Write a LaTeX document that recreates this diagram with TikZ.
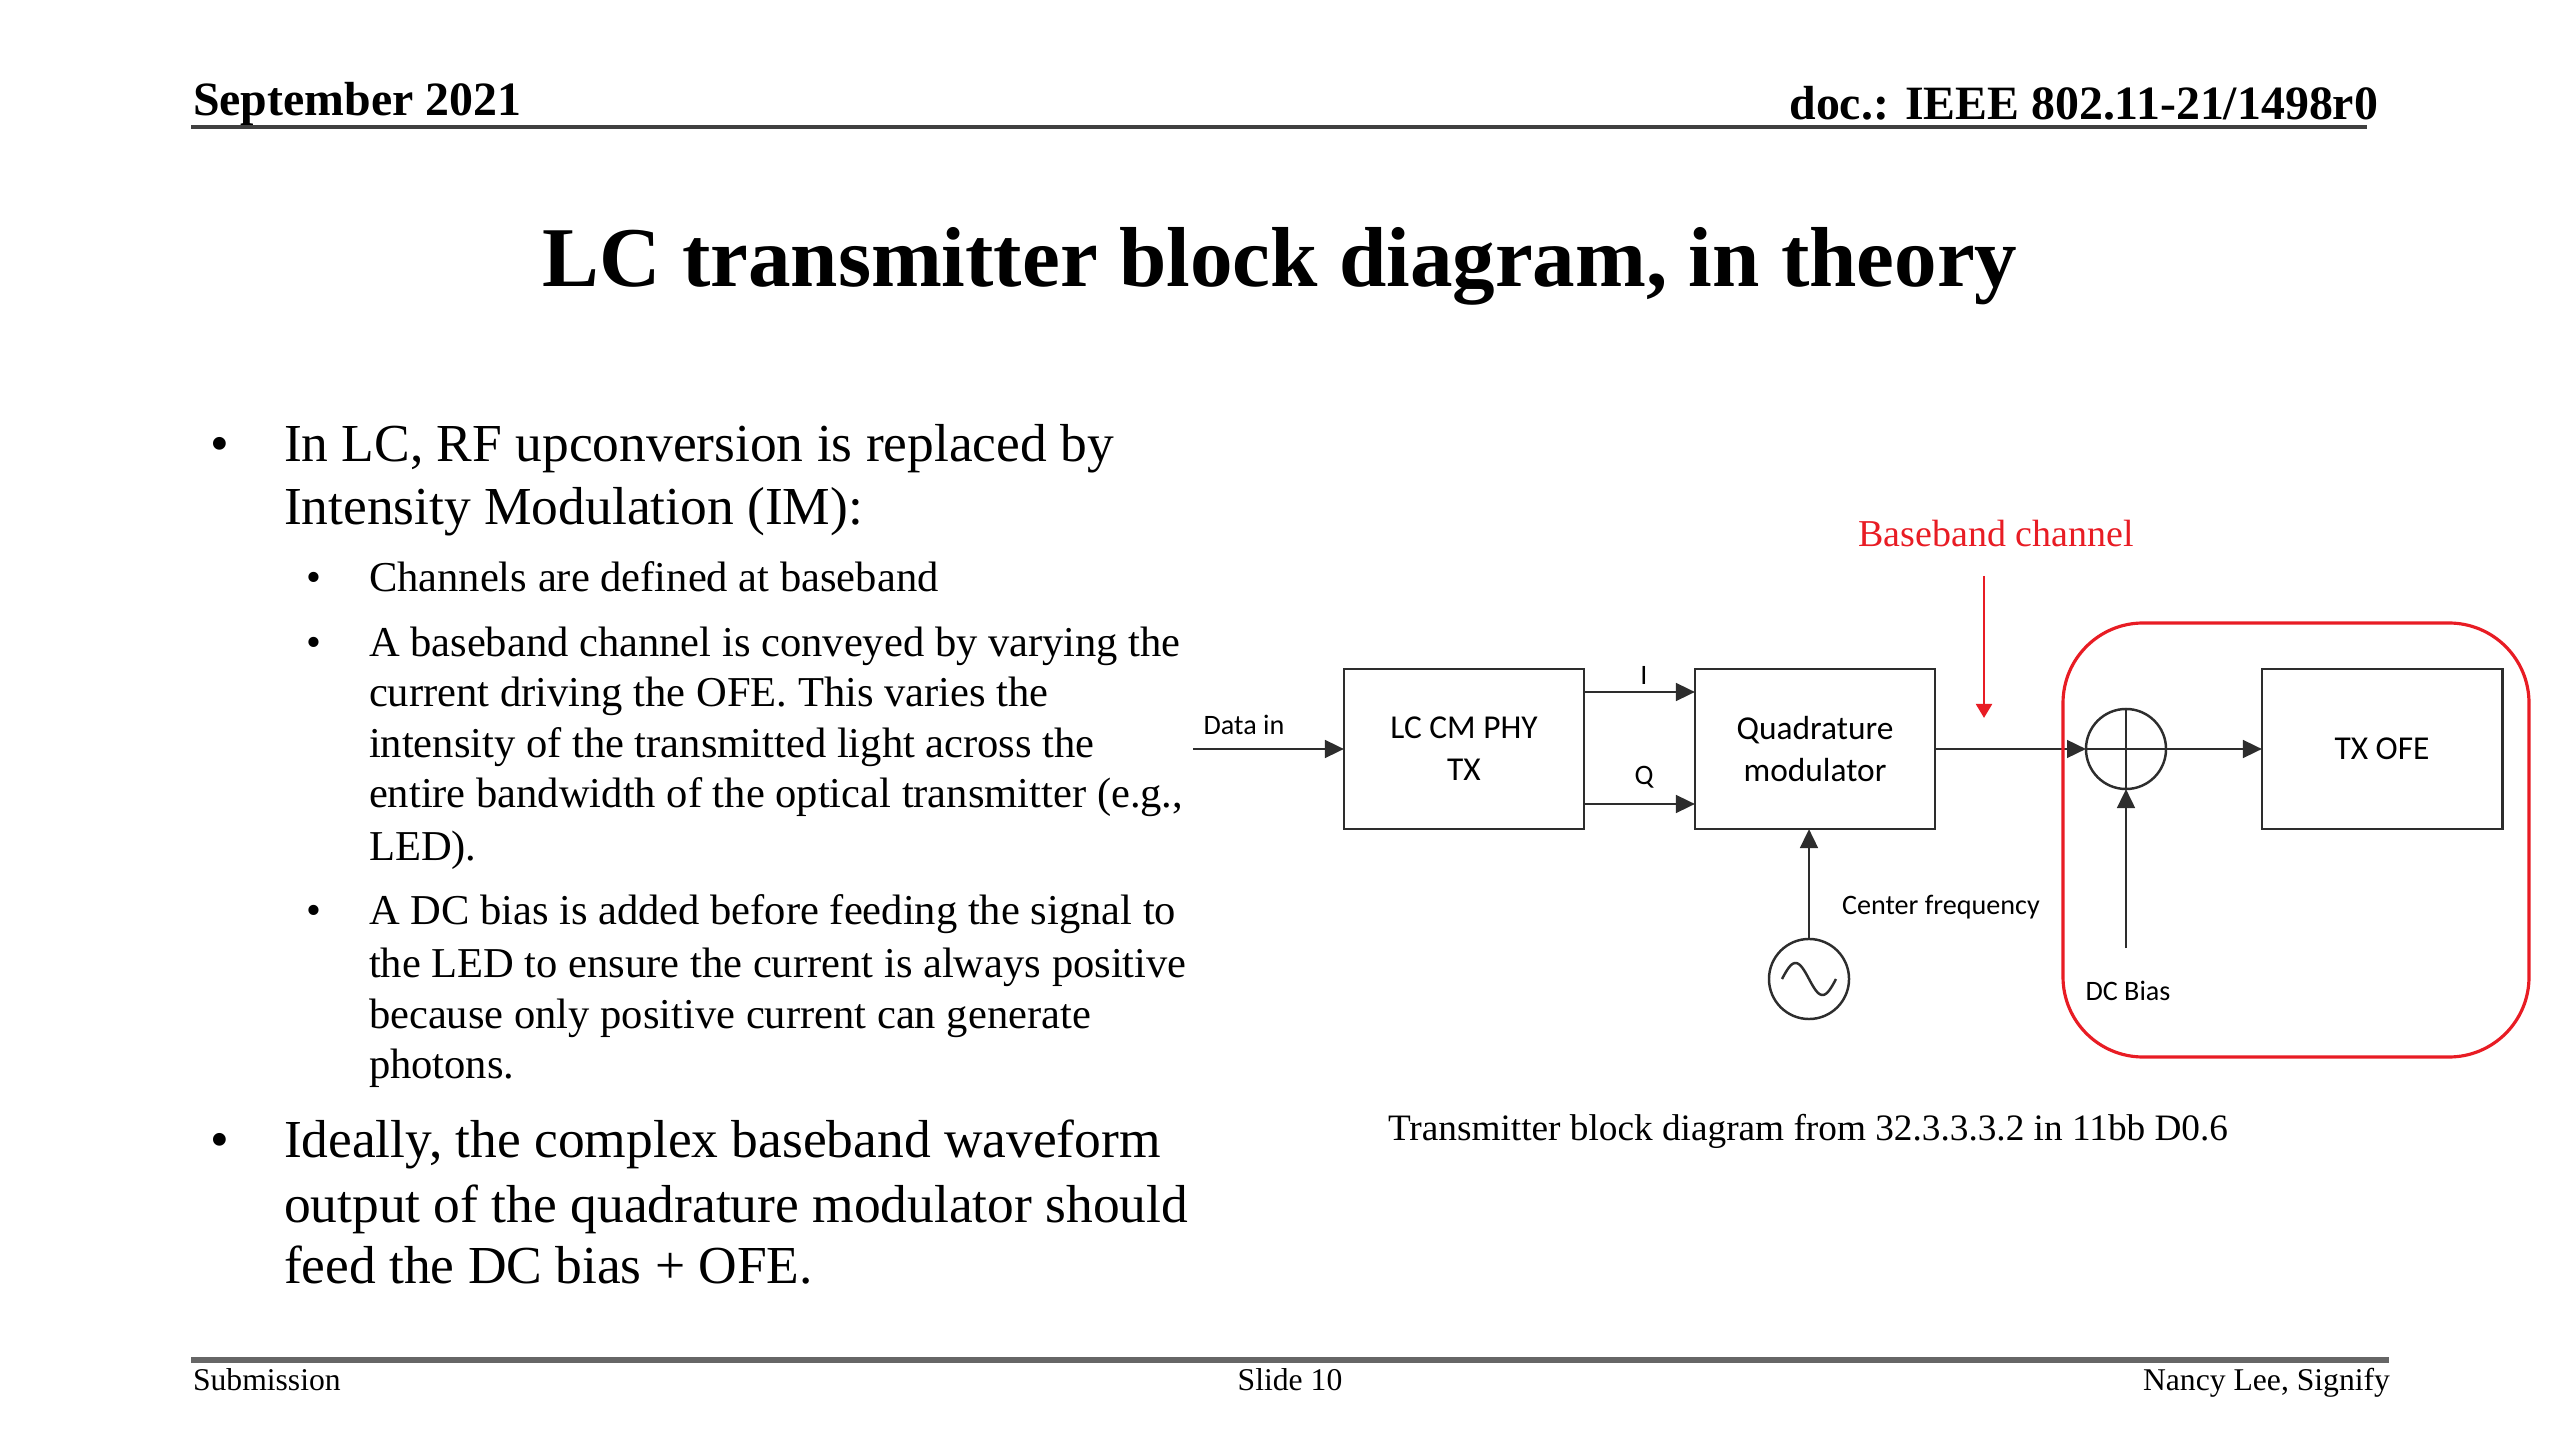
\documentclass[tikz,border=0pt]{standalone}
\usepackage{fontspec}
\setmainfont{Liberation Serif}
\newfontfamily\diagfont{Carlito}
\usetikzlibrary{arrows.meta}
\definecolor{mred}{RGB}{232,28,36}
\definecolor{lineclr}{RGB}{45,45,45}
\begin{document}
\begin{tikzpicture}[x=0.01cm,y=-0.01cm,
  txt/.style={inner sep=0pt, outer sep=0pt},
  hdr/.style={txt, font=\bfseries\fontsize{13.6}{16}\selectfont},
  ftr/.style={txt, anchor=base, font=\fontsize{9}{11}\selectfont},
  lone/.style={txt, anchor=base west, font=\fontsize{15.2}{18}\selectfont},
  ltwo/.style={txt, anchor=base west, font=\fontsize{12.1}{14}\selectfont},
  bulone/.style={txt, anchor=base, font=\fontsize{15.2}{18}\selectfont},
  bultwo/.style={txt, anchor=base, font=\fontsize{12.1}{14}\selectfont},
  blk/.style={draw=lineclr, line width=0.8pt, minimum width=2.4cm, minimum height=1.6cm, inner sep=0pt, outer sep=0pt, align=center, font=\diagfont\fontsize{9.5}{12}\selectfont},
  rnd/.style={draw=lineclr, line width=0.7pt, circle, minimum size=0.8cm, inner sep=0pt, outer sep=0pt},
  lbl/.style={txt, font=\diagfont\fontsize{8}{10}\selectfont},
  arr/.style={draw=lineclr, line width=0.8pt, -{Triangle[length=5.4pt,width=5pt]}},
  redarr/.style={draw=mred, line width=0.8pt, -{Triangle[length=4pt,width=4.5pt]}}
]
\path[use as bounding box, fill=white] (0,0) rectangle (2560,1440);

% header
\node[hdr, anchor=base west] (date) at (193,116) {September 2021};
\node[hdr, anchor=base east] (doc) at (2378,120) {doc.: IEEE 802.11-21/1498r0};
\draw[line width=1.2pt, black!75] (191,127) -- (2367,127);

% title
\node[txt, anchor=base, font=\bfseries\fontsize{24.2}{29}\selectfont] (title) at (1280,287) {LC transmitter block diagram, in theory};

% bullets
\node[bulone] (b1) at (220,462) {•};
\node[lone] (t1a) at (284,462) {In LC, RF upconversion is replaced by};
\node[lone] (t1b) at (284,525) {Intensity Modulation (IM):};
\node[bultwo] (b2) at (314,592) {•};
\node[ltwo] (t2a) at (369,592) {Channels are defined at baseband};
\node[bultwo] (b3) at (314,657) {•};
\node[ltwo] (t3a) at (369,657) {A baseband channel is conveyed by varying the};
\node[ltwo] (t3b) at (369,707) {current driving the OFE. This varies the};
\node[ltwo] (t3c) at (369,758) {intensity of the transmitted light across the};
\node[ltwo] (t3d) at (369,808) {entire bandwidth of the optical transmitter (e.g.,};
\node[ltwo] (t3e) at (369,860) {LED).};
\node[bultwo] (b4) at (314,925) {•};
\node[ltwo] (t4a) at (369,925) {A DC bias is added before feeding the signal to};
\node[ltwo] (t4b) at (369,977) {the LED to ensure the current is always positive};
\node[ltwo] (t4c) at (369,1028) {because only positive current can generate};
\node[ltwo] (t4d) at (369,1078) {photons.};
\node[bulone] (b5) at (220,1157) {•};
\node[lone] (t5a) at (284,1157) {Ideally, the complex baseband waveform};
\node[lone] (t5b) at (284,1222) {output of the quadrature modulator should};
\node[lone] (t5c) at (284,1283) {feed the DC bias + OFE.};

% diagram
\node[blk] (lc) at (1464,749) {LC CM PHY\\TX};
\node[blk] (qm) at (1815,749) {Quadrature\\modulator};
\node[blk] (tx) at (2382,749) {TX OFE};
\node[rnd] (sum) at (2126,749) {};
\node[rnd] (osc) at (1809,979) {};
\draw[lineclr, line width=0.7pt] (sum.north) -- (sum.south);
\draw[lineclr, line width=0.7pt] (sum.west) -- (sum.east);
\draw[lineclr, line width=0.7pt] plot[domain=-1:1, samples=41, smooth] ({1809+27*\x},{979+16*sin(180*\x)});

\coordinate (din) at (1193,749);
\coordinate (iy) at (0,692);
\coordinate (qy) at (0,804);
\coordinate (dcb) at (2126,948);
\draw[arr] (din) -- (lc.west);
\draw[arr] (lc.east |- iy) -- (qm.west |- iy);
\draw[arr] (lc.east |- qy) -- (qm.west |- qy);
\draw[arr] (qm.east) -- (sum.west);
\draw[arr] (sum.east) -- (tx.west);
\draw[arr] (dcb) -- (sum.south);
\draw[arr] (osc.north) -- (osc.north |- qm.south);

\node[lbl] (ldata) at (1244,725) {Data in};
\node[lbl] (li) at (1644,675) {I};
\node[lbl] (lq) at (1644,777) {Q};
\node[lbl, anchor=west] (lcf) at (1842,907) {Center frequency};
\node[lbl] (ldc) at (2128,991) {DC Bias};

% red annotation
\node[txt, anchor=base, text=mred, font=\fontsize{10.8}{13}\selectfont] (bbl) at (1996,547) {Baseband channel};
\coordinate (bbt) at (1984,576);
\coordinate (bbh) at (1984,718);
\draw[redarr] (bbt) -- (bbh);
\draw[mred, line width=0.9pt, rounded corners=0.8cm] (2063,623) rectangle (2529,1057);

% caption
\node[txt, anchor=base, font=\fontsize{10.6}{13}\selectfont] (cap) at (1808,1140) {Transmitter block diagram from 32.3.3.3.2 in 11bb D0.6};

% footer
\draw[line width=1.5pt, black!60] (191,1360) -- (2389,1360);
\node[ftr, anchor=base west] (sub) at (193,1390) {Submission};
\node[ftr] (slide) at (1290,1390) {Slide 10};
\node[ftr, anchor=base east] (auth) at (2390,1390) {Nancy Lee, Signify};
\end{tikzpicture}
\end{document}
